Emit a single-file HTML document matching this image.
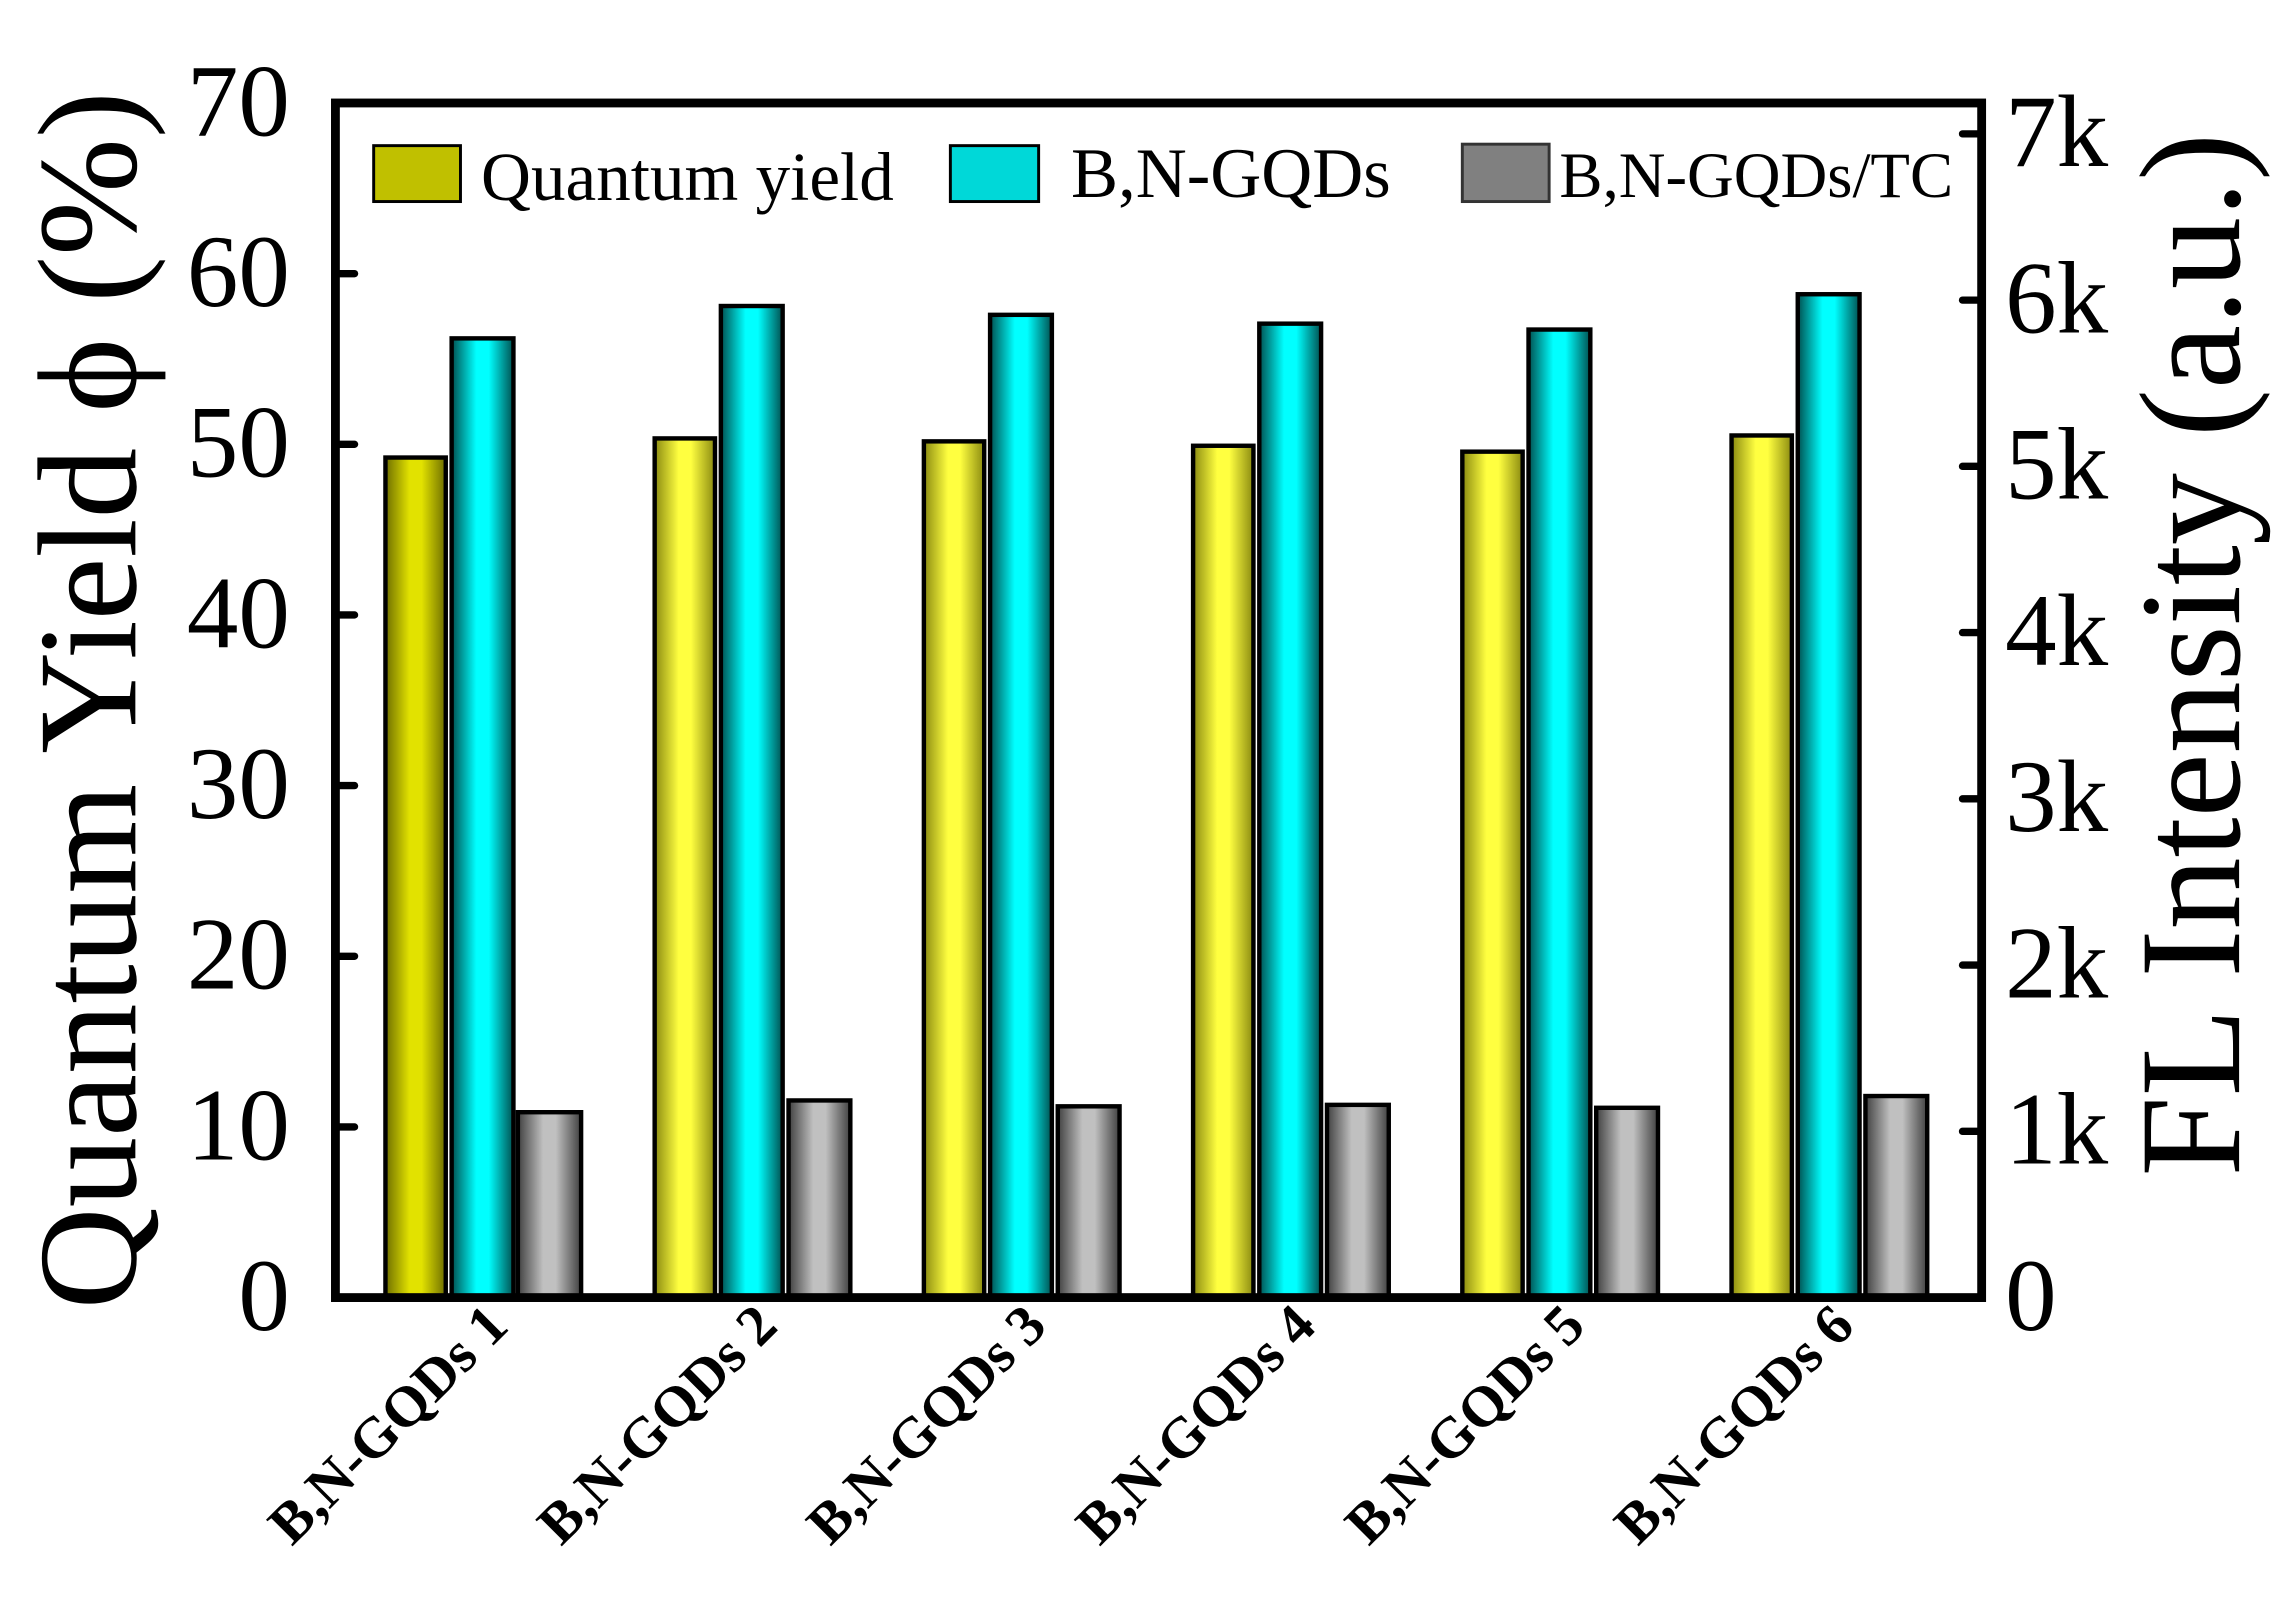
<!DOCTYPE html>
<html><head><meta charset="utf-8"><style>html,body{margin:0;padding:0;background:#fff}svg{display:block}</style></head>
<body>
<svg width="2295" height="1608" viewBox="0 0 1560 1093" preserveAspectRatio="none" xmlns="http://www.w3.org/2000/svg" font-family="'Liberation Serif', serif">
<defs>
<linearGradient id="y1" x1="0" x2="1"><stop offset="0" stop-color="#6e6e00"/><stop offset="0.4" stop-color="#e2e200"/><stop offset="0.6" stop-color="#e2e200"/><stop offset="1" stop-color="#6e6e00"/></linearGradient>
<linearGradient id="y2" x1="0" x2="1"><stop offset="0" stop-color="#8a8a10"/><stop offset="0.4" stop-color="#ffff40"/><stop offset="0.6" stop-color="#ffff40"/><stop offset="1" stop-color="#8a8a10"/></linearGradient>
<linearGradient id="c" x1="0" x2="1"><stop offset="0" stop-color="#005050"/><stop offset="0.4" stop-color="#00ffff"/><stop offset="0.6" stop-color="#00ffff"/><stop offset="1" stop-color="#005050"/></linearGradient>
<linearGradient id="g" x1="0" x2="1"><stop offset="0" stop-color="#404040"/><stop offset="0.4" stop-color="#c0c0c0"/><stop offset="0.6" stop-color="#c0c0c0"/><stop offset="1" stop-color="#404040"/></linearGradient>
</defs>
<g stroke="#000" stroke-width="3">
<rect x="262" y="311" width="41" height="571" fill="url(#y1)"/>
<rect x="307" y="230" width="42" height="652" fill="url(#c)"/>
<rect x="352" y="756" width="43" height="126" fill="url(#g)"/>
<rect x="445" y="298" width="41" height="584" fill="url(#y2)"/>
<rect x="490" y="208" width="42" height="674" fill="url(#c)"/>
<rect x="536" y="748" width="42" height="134" fill="url(#g)"/>
<rect x="628" y="300" width="41" height="582" fill="url(#y2)"/>
<rect x="673" y="214" width="42" height="668" fill="url(#c)"/>
<rect x="719" y="752" width="42" height="130" fill="url(#g)"/>
<rect x="811" y="303" width="41" height="579" fill="url(#y2)"/>
<rect x="856" y="220" width="42" height="662" fill="url(#c)"/>
<rect x="902" y="751" width="42" height="131" fill="url(#g)"/>
<rect x="994" y="307" width="41" height="575" fill="url(#y2)"/>
<rect x="1039" y="224" width="42" height="658" fill="url(#c)"/>
<rect x="1085" y="753" width="42" height="129" fill="url(#g)"/>
<rect x="1177" y="296" width="41" height="586" fill="url(#y2)"/>
<rect x="1222" y="200" width="42" height="682" fill="url(#c)"/>
<rect x="1268" y="745" width="42" height="137" fill="url(#g)"/>
</g>
<rect x="228" y="70" width="1119" height="812" fill="none" stroke="#000" stroke-width="6"/>
<g stroke="#000" stroke-width="5" stroke-linecap="round">
<line x1="228" y1="766" x2="241" y2="766"/><line x1="228" y1="650" x2="241" y2="650"/><line x1="228" y1="534" x2="241" y2="534"/><line x1="228" y1="418" x2="241" y2="418"/><line x1="228" y1="302" x2="241" y2="302"/><line x1="228" y1="186" x2="241" y2="186"/>
<line x1="1334" y1="769" x2="1347" y2="769"/><line x1="1334" y1="656" x2="1347" y2="656"/><line x1="1334" y1="543" x2="1347" y2="543"/><line x1="1334" y1="430" x2="1347" y2="430"/><line x1="1334" y1="317" x2="1347" y2="317"/><line x1="1334" y1="204" x2="1347" y2="204"/><line x1="1334" y1="91" x2="1347" y2="91"/>
</g>
<g font-size="70" text-anchor="end">
<text x="197" y="904">0</text><text x="197" y="788">10</text><text x="197" y="672">20</text><text x="197" y="556">30</text><text x="197" y="440">40</text><text x="197" y="324">50</text><text x="197" y="208">60</text><text x="197" y="92">70</text>
</g>
<g font-size="70" text-anchor="start">
<text x="1363" y="904">0</text><text x="1363" y="791">1k</text><text x="1363" y="678">2k</text><text x="1363" y="565">3k</text><text x="1363" y="452">4k</text><text x="1363" y="339">5k</text><text x="1363" y="226">6k</text><text x="1363" y="113">7k</text>
</g>
<text transform="translate(92,476) rotate(-90)" font-size="96" text-anchor="middle">Quantum Yield ϕ (%)</text>
<text transform="translate(1522,445) rotate(-90)" font-size="98" text-anchor="middle">FL Intensity (a.u.)</text>
<rect x="254" y="99" width="59" height="38" fill="#c0c000" stroke="#000" stroke-width="2"/>
<text x="327" y="136" font-size="47">Quantum yield</text>
<rect x="646" y="99" width="60" height="38" fill="#00d8d8" stroke="#000" stroke-width="2"/>
<text x="728" y="134" font-size="48">B,N-GQDs</text>
<rect x="994" y="98" width="59" height="39" fill="#808080" stroke="#333" stroke-width="2"/>
<text x="1060" y="134" font-size="44">B,N-GQDs/TC</text>
<g font-size="39" font-weight="bold" text-anchor="end">
<text transform="translate(347,903) rotate(-45)">B,N-GQDs 1</text>
<text transform="translate(530,903) rotate(-45)">B,N-GQDs 2</text>
<text transform="translate(713,903) rotate(-45)">B,N-GQDs 3</text>
<text transform="translate(896,903) rotate(-45)">B,N-GQDs 4</text>
<text transform="translate(1079,903) rotate(-45)">B,N-GQDs 5</text>
<text transform="translate(1262,903) rotate(-45)">B,N-GQDs 6</text>
</g>
</svg>
</body></html>
